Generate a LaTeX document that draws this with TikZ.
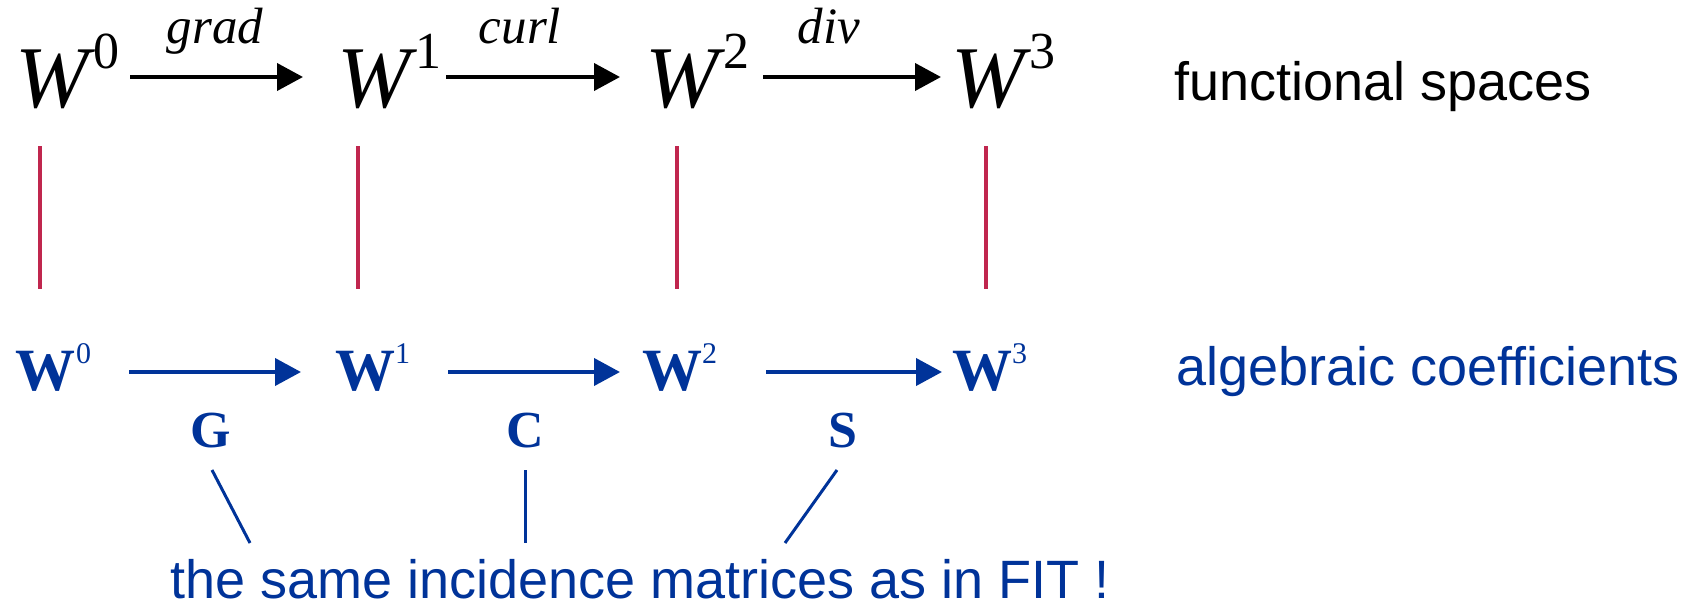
\documentclass[tikz,border=0pt]{standalone}
\usepackage{fontspec}
\setmainfont{Liberation Serif}
\newfontfamily\arialf{Liberation Sans}
\usetikzlibrary{arrows.meta,calc}
\definecolor{fitblue}{RGB}{0,51,153}
\definecolor{fitred}{RGB}{192,38,78}
\newcommand{\topW}[1]{W\kern5pt\raisebox{39pt}{\fontsize{52}{52}\selectfont\upshape #1}}
\newcommand{\botW}[1]{W\raisebox{27pt}{\fontsize{30}{30}\selectfont\mdseries #1}}
\begin{document}
\begin{tikzpicture}[x=1pt,y=-1pt,
  topw/.style={inner sep=0pt,outer sep=0pt,anchor=base west,text height=60pt,text depth=0pt,
    font=\fontsize{88}{88}\selectfont\itshape},
  botw/.style={inner sep=0pt,outer sep=0pt,anchor=base west,text height=36pt,text depth=0pt,
    text=fitblue,font=\fontsize{60}{60}\selectfont\bfseries},
  oplabel/.style={inner sep=0pt,anchor=base,font=\fontsize{51}{51}\selectfont\itshape},
  matlabel/.style={inner sep=0pt,anchor=base,text=fitblue,font=\fontsize{52}{52}\selectfont\bfseries},
  sidetext/.style={inner sep=0pt,anchor=base west,font=\fontsize{54}{54}\selectfont\arialf},
  tarr/.style={line width=4pt,-{Triangle[length=26pt,width=27pt]}},
  barr/.style={line width=4pt,fitblue,-{Triangle[length=26pt,width=27pt]}},
  redl/.style={line width=4pt,fitred},
  bluel/.style={line width=3pt,fitblue}]
\useasboundingbox (0,0) rectangle (1691,610);

% top row: functional spaces
\node[topw] (t0) at (15,107) {\topW{0}};
\node[topw] (t1) at (337,107) {\topW{1}};
\node[topw] (t2) at (645,107) {\topW{2}};
\node[topw] (t3) at (951,107) {\topW{3}};
\draw[tarr,shorten <=11pt,shorten >=34pt] (t0) -- (t1);
\draw[tarr,shorten <=5pt,shorten >=25pt] (t1) -- (t2);
\draw[tarr,shorten <=14pt,shorten >=10pt] (t2) -- (t3);
\node[oplabel] (lgrad) at (215,44) {grad};
\node[oplabel] (lcurl) at (520,44) {curl};
\node[oplabel] (ldiv) at (829,44) {div};
\node[sidetext] (fs) at (1174,100) {functional spaces};

% bottom row: algebraic coefficients
\node[botw] (b0) at (16,390) {\botW{0}};
\node[botw] (b1) at (335,390) {\botW{1}};
\node[botw] (b2) at (642,390) {\botW{2}};
\node[botw] (b3) at (952,390) {\botW{3}};
\draw[barr,shorten <=38pt,shorten >=34pt] (b0) -- (b1);
\draw[barr,shorten <=38pt,shorten >=22pt] (b1) -- (b2);
\draw[barr,shorten <=49pt,shorten >=10pt] (b2) -- (b3);
\node[sidetext,text=fitblue] (ac) at (1176,385) {algebraic coefficients};

% vertical links
\draw[redl] ($(t0.base west)+(25,39)$) -- ($(b0.base west)+(24,-101)$);
\draw[redl] ($(t1.base west)+(21,39)$) -- ($(b1.base west)+(23,-101)$);
\draw[redl] ($(t2.base west)+(32,39)$) -- ($(b2.base west)+(35,-101)$);
\draw[redl] ($(t3.base west)+(35,39)$) -- ($(b3.base west)+(34,-101)$);

% incidence matrices
\node[matlabel] (G) at (211,447) {G};
\node[matlabel] (C) at (525,447) {C};
\node[matlabel] (S) at (843,447) {S};
\node[sidetext,text=fitblue] (fit) at (170,598) {the same incidence matrices as in FIT !};
\draw[bluel] ($(G.base)+(1,23)$) -- ($(fit.base west)+(80,-55)$);
\draw[bluel] ($(C.base)+(0,23)$) -- ($(fit.base west)+(355,-55)$);
\draw[bluel] ($(S.base)+(-6,23)$) -- ($(fit.base west)+(615,-55)$);
\end{tikzpicture}
\end{document}
